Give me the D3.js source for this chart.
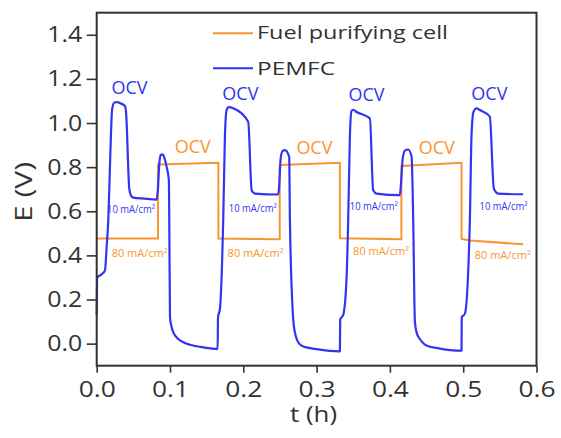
<!DOCTYPE html>
<html>
<head>
<meta charset="utf-8">
<script src="https://cdn.jsdelivr.net/npm/d3@7"></script>
<style>
  html, body { margin: 0; padding: 0; background: #fff; }
  svg { display: block; font-family: "Open Sans", "DejaVu Sans", sans-serif; }
</style>
</head>
<body>
<svg id="chart" width="561" height="438"></svg>
<script>
// Fuel purifying cell: alternating 80 mA/cm² load and open circuit
const fuelTime = [0, 0.0836, 0.0836, 0.166, 0.166, 0.2497, 0.2497, 0.3318, 0.3318, 0.4157, 0.4157, 0.4977, 0.4977, 0.509, 0.5818];
const fuelE    = [0.476, 0.476, 0.812, 0.820, 0.476, 0.473, 0.810, 0.820, 0.478, 0.473, 0.805, 0.820, 0.475, 0.468, 0.450];

// PEMFC: open circuit, 10 mA/cm² hold, fed with the purified fuel
const pemTime = [
  0.000, 0.0008, 0.007, 0.0113, 0.0136, 0.0158, 0.0185, 0.021, 0.024, 0.028, 0.032, 0.0386, 0.040, 0.0445, 0.047, 0.050, 0.065, 0.0818,
  0.0835, 0.0855, 0.0875, 0.090, 0.0925, 0.0955, 0.0985, 0.0990, 0.1000, 0.1022, 0.1045, 0.1075, 0.1113, 0.118, 0.1272, 0.1454, 0.165,
  0.1655, 0.1681, 0.1726, 0.175, 0.1773, 0.180, 0.1863, 0.2067, 0.2114, 0.2159, 0.2476,
  0.249, 0.251, 0.2535, 0.2568, 0.2626, 0.2636, 0.2681, 0.2705, 0.2749, 0.280, 0.2864, 0.300, 0.3318,
  0.3322, 0.3363, 0.3409, 0.3431, 0.3455, 0.3477, 0.350, 0.3546, 0.3727, 0.3772, 0.3818, 0.4136,
  0.415, 0.4175, 0.4205, 0.4249, 0.4296, 0.4318, 0.4341, 0.4365, 0.4409, 0.445, 0.450, 0.465, 0.4977,
  0.498, 0.5022, 0.5067, 0.5091, 0.5114, 0.514, 0.5182, 0.522, 0.5363, 0.5418, 0.5477, 0.5818
];
const pemE = [
  0.13, 0.30, 0.315, 0.332, 0.44, 0.56, 0.85, 1.06, 1.093, 1.095, 1.09, 1.077, 1.05, 0.70, 0.67, 0.662, 0.657, 0.653,
  0.70, 0.82, 0.855, 0.858, 0.84, 0.80, 0.74, 0.56, 0.12, 0.075, 0.051, 0.034, 0.021, 0.006, -0.005, -0.017, -0.024,
  0.12, 0.157, 0.56, 0.95, 1.06, 1.072, 1.067, 1.006, 0.695, 0.68, 0.676,
  0.72, 0.84, 0.873, 0.877, 0.847, 0.56, 0.11, 0.05, 0.006, -0.010, -0.017, -0.025, -0.035,
  0.11, 0.13, 0.30, 0.56, 0.95, 1.055, 1.06, 1.05, 1.021, 0.695, 0.68, 0.673,
  0.72, 0.84, 0.875, 0.88, 0.847, 0.56, 0.10, 0.050, 0.021, 0.004, -0.008, -0.020, -0.032,
  0.12, 0.135, 0.317, 0.56, 0.95, 1.05, 1.067, 1.06, 1.029, 0.703, 0.68, 0.677
];

const xTicks = [0, 0.1, 0.2, 0.3, 0.4, 0.5, 0.6];
const yTicks = [0, 0.2, 0.4, 0.6, 0.8, 1.0, 1.2, 1.4];

// Annotations placed at (t, E) positions
const pemOcvLabels   = [[0.0447, 1.132], [0.196, 1.105], [0.368, 1.10], [0.5357, 1.105]];
const fuelOcvLabels  = [[0.131, 0.865], [0.297, 0.86], [0.464, 0.86]];
const pemLoadLabels  = [[0.0468, 0.591], [0.213, 0.595], [0.378, 0.605], [0.555, 0.605]];
const fuelLoadLabels = [[0.0586, 0.391], [0.2168, 0.391], [0.388, 0.40], [0.554, 0.382]];

const blue = "#3333f2";
const orange = "#f7962f";
const ink = "#333";

const svg = d3.select("#chart");
const m = { left: 96.7, top: 12.7, right: 24.5, bottom: 72.3 };
const W = 561 - m.left - m.right, H = 438 - m.top - m.bottom;
const g = svg.append("g").attr("transform", `translate(${m.left},${m.top})`);

const x = d3.scaleLinear().domain([0, 0.6]).range([0, W]);
const y = d3.scaleLinear().domain([-0.1, 1.5]).range([H, 0]);

const stepLine = d3.line().x(d => x(d[0])).y(d => y(d[1]));
const smoothLine = d3.line().x(d => x(d[0])).y(d => y(d[1])).curve(d3.curveMonotoneX);

g.append("path")
  .datum(d3.zip(fuelTime, fuelE))
  .attr("d", stepLine).attr("fill", "none")
  .attr("stroke", orange).attr("stroke-width", 2);

g.append("path")
  .datum(d3.zip(pemTime, pemE))
  .attr("d", smoothLine).attr("fill", "none")
  .attr("stroke", blue).attr("stroke-width", 2.2)
  .attr("stroke-linejoin", "round");

// Axes
const xAxis = g.append("g").attr("transform", `translate(0,${H})`)
  .call(d3.axisBottom(x).tickValues(xTicks).tickFormat(d3.format(".1f")).tickSize(7).tickPadding(9).tickSizeOuter(0));
const yAxis = g.append("g")
  .call(d3.axisLeft(y).tickValues(yTicks).tickFormat(d3.format(".1f")).tickSize(10).tickPadding(4.5).tickSizeOuter(0));
[xAxis, yAxis].forEach(a => {
  a.select(".domain").remove();
  a.selectAll("line").attr("stroke", ink).attr("stroke-width", 1.6);
  a.selectAll("text").attr("fill", ink).attr("font-size", 22)
    .attr("font-family", "'Open Sans', sans-serif")
    .attr("lengthAdjust", "spacingAndGlyphs");
});
xAxis.selectAll("text").attr("textLength", 37);
yAxis.selectAll("text").attr("textLength", 35);

// Frame
g.append("rect").attr("x", 0).attr("y", 0).attr("width", W).attr("height", H)
  .attr("fill", "none").attr("stroke", ink).attr("stroke-width", 2);

// Axis titles
svg.append("text").attr("x", 313.5).attr("y", 421.5)
  .attr("text-anchor", "middle").attr("font-size", 22).attr("fill", ink)
  .attr("textLength", 47).attr("lengthAdjust", "spacingAndGlyphs").text("t (h)");
svg.append("text").attr("transform", `translate(31.5,192) rotate(-90)`)
  .attr("text-anchor", "middle").attr("font-size", 23).attr("fill", ink)
  .attr("textLength", 60).attr("lengthAdjust", "spacingAndGlyphs").text("E (V)");

// Annotations
function labels(list, text, color, size, len) {
  g.selectAll(null).data(list).enter().append("text")
    .attr("x", d => x(d[0])).attr("y", d => y(d[1]))
    .attr("text-anchor", "middle").attr("font-size", size).attr("fill", color)
    .attr("textLength", len).attr("lengthAdjust", "spacingAndGlyphs")
    .text(text);
}
labels(pemOcvLabels, "OCV", blue, 19, 36);
labels(fuelOcvLabels, "OCV", orange, 19, 36);
labels(pemLoadLabels, "10 mA/cm²", blue, 10, 48);
labels(fuelLoadLabels, "80 mA/cm²", orange, 11, 56);

// Legend
const legend = [["Fuel purifying cell", orange, 33.3, 38.5, 191], ["PEMFC", blue, 68.3, 75, 78]];
legend.forEach(([name, color, ly, ty, len]) => {
  svg.append("line").attr("x1", 213).attr("x2", 253).attr("y1", ly).attr("y2", ly)
    .attr("stroke", color).attr("stroke-width", 2);
  svg.append("text").attr("x", 257).attr("y", ty).attr("font-size", 19).attr("fill", ink)
    .attr("textLength", len).attr("lengthAdjust", "spacingAndGlyphs").text(name);
});
</script>
</body>
</html>
